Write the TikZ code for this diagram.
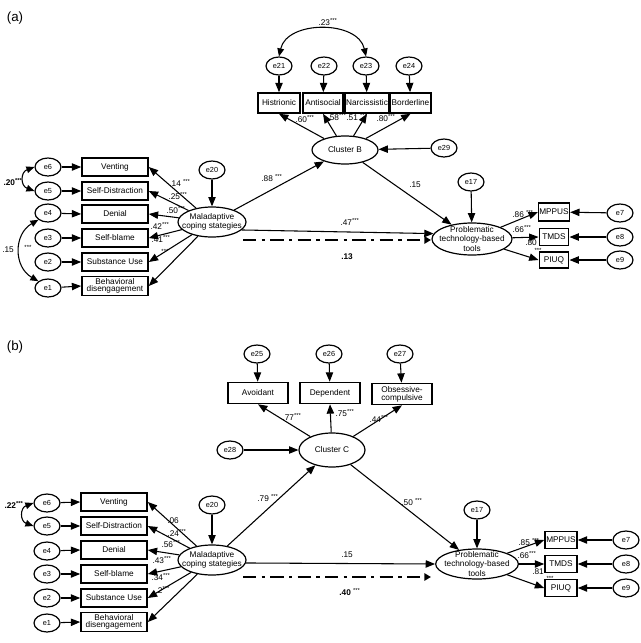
\documentclass[tikz,border=0pt]{standalone}
\usepackage{fontspec}
\setmainfont{Liberation Sans}
\usetikzlibrary{shapes.geometric,arrows.meta}
\newcommand\st{\textsuperscript{***}}
\newcommand\myfs{\fontsize{6.2}{6.8}\selectfont}
\newcommand\myfe{\fontsize{5.5}{6}\selectfont}
\begin{document}
\begin{tikzpicture}[x=0.75pt,y=-0.75pt,
  box/.style={draw,line width=1.2pt,inner sep=0.5pt,font=\myfs,align=center,minimum height=13.5pt},
  lbox/.style={box,minimum width=49.5pt},
  err/.style={ellipse,draw,line width=0.9pt,inner sep=0pt,minimum width=19.5pt,minimum height=13.5pt,font=\myfe},
  lat/.style={ellipse,draw,line width=0.9pt,inner sep=0pt},
  txt/.style={font=\myfs,align=center,inner sep=0pt},
  arr/.style={line width=0.8pt,-{Triangle[length=7pt,width=5.5pt]}},
  darr/.style={line width=0.8pt,{Triangle[length=6pt,width=5pt]}-{Triangle[length=6pt,width=5pt]}},
  dd/.style={line width=2.2pt,dash pattern=on 10pt off 4pt on 2.5pt off 4pt,-{Triangle[length=5pt,width=5.5pt]}},
  lab/.style={font=\myfs,inner sep=0pt},
  slab/.style={font=\fontsize{4.5}{5}\selectfont,inner sep=0pt},
  panel/.style={font=\fontsize{10}{12}\selectfont,inner sep=0pt}]
\useasboundingbox (0,0) rectangle (641,643);

% ================= Panel (a) =================
\node[panel] (pa) at (15,18) {(a)};

\node[lbox] (av) at (115,167) {Venting};
\node[lbox] (asd) at (115,191) {Self-Distraction};
\node[lbox] (ad) at (115,214) {Denial};
\node[lbox] (asb) at (115,238) {Self-blame};
\node[lbox] (asu) at (115,262) {Substance Use};
\node[lbox,minimum height=14.5pt,inner sep=0.3pt] (abd) at (115,286) {Behavioral\\[-1.4pt]disengagement};

\node[err] (ae6) at (48,167) {e6};
\node[err] (ae5) at (48,191) {e5};
\node[err] (ae4) at (48,213) {e4};
\node[err] (ae3) at (48,238) {e3};
\node[err] (ae2) at (48,262) {e2};
\node[err] (ae1) at (48,288) {e1};

\foreach \e/\b in {ae6/av,ae5/asd,ae4/ad,ae3/asb,ae2/asu,ae1/abd}
  \draw[arr] (\e) -- (\b.west);

\draw[darr] (ae6.west) to[out=200,in=160,looseness=1.6] (ae5.west);
\draw[darr] (ae4.south west) to[out=210,in=150,looseness=1.2] (ae1.north west);
\node[lab] (l20) at (13,182) {\bfseries .20\st};
\node[lab] (l15) at (8,250) {.15};
\node[slab] (l15s) at (28,247) {***};

\node[lat,minimum width=51pt,minimum height=22.5pt] (amal) at (212,222) {};
\node[txt] (amalt) at (amal) {Maladaptive\\coping stategies};
\node[err] (ae20) at (212,170) {e20};
\draw[arr] (ae20) -- (amal);
\foreach \b in {av,asd,ad,asb,asu,abd}
  \draw[arr] (amal) -- (\b.east);
\node[lab] (a14) at (180,183) {.14 \st};
\node[lab] (a25) at (178,196) {.25\st};
\node[lab] (a50) at (176,210) {.50\st};
\node[lab] (a42) at (160,226) {.42\st};
\node[lab] (a41) at (161,239) {.41\st};
\node[slab] (a4x) at (165,251) {***};

% Cluster B
\node[lat,minimum width=49.5pt,minimum height=21pt] (acb) at (345,150) {};
\node[txt] (acbt) at (acb) {Cluster B};
\node[err] (ae29) at (444,148) {e29};
\draw[arr] (ae29) -- (acb);

\node[box,minimum width=31.5pt,minimum height=15pt] (ahi) at (279,103) {Histrionic};
\node[box,minimum width=30pt,minimum height=15pt] (aan) at (323,103) {Antisocial};
\node[box,minimum width=33pt,minimum height=15pt] (ana) at (367,103) {Narcissistic};
\node[box,minimum width=30.75pt,minimum height=15pt] (abo) at (410.5,103) {Borderline};
\node[err] (ae21) at (279,66) {e21};
\node[err] (ae22) at (324,66) {e22};
\node[err] (ae23) at (366,66) {e23};
\node[err] (ae24) at (409,66) {e24};
\draw[arr] (ae21) -- (ahi);
\draw[arr] (ae22) -- (aan);
\draw[arr] (ae23) -- (ana);
\draw[arr] (ae24) -- (abo);
\draw[darr] (ae21.north) .. controls (287,20) and (358,20) .. (ae23.north);
\node[lab] (a23) at (328,22) {.23\st};

\draw[arr] (acb) -- (ahi.south);
\draw[arr] (acb) -- (aan.south);
\draw[arr] (acb) -- (ana.south);
\draw[arr] (acb) -- (abo.south);
\node[lab] (a60) at (305,119) {.60\st};
\node[lab] (a58) at (337,117) {.58\st};
\node[lab] (a51) at (357,117) {.51 \st};
\node[lab] (a80) at (386,118) {.80\st};

% Problematic
\node[lat,minimum width=60pt,minimum height=24pt] (apt) at (472,239) {};
\node[txt] (aptt) at (apt) {Problematic\\technology-based\\tools};
\node[err] (ae17) at (471,182) {e17};
\draw[arr] (ae17) -- (apt);

\draw[arr] (amal) -- (acb);
\node[lab] (a88) at (272,178) {.88 \st};
\draw[arr] (acb) -- (apt);
\node[lab] (a15b) at (415,185) {.15};
\draw[arr] (amal.-15) -- (apt.172);
\node[lab] (a47) at (350,222) {.47\st};
\coordinate (ads) at (243,240);
\coordinate (ade) at (431,240);
\draw[dd] (ads) -- (ade);
\node[lab] (a13) at (347,257) {\bfseries .13};

\node[box,minimum width=22pt,minimum height=13.5pt] (amp) at (554,212) {MPPUS};
\node[box,minimum width=22pt,minimum height=12.75pt] (atm) at (554,237) {TMDS};
\node[box,minimum width=22pt,minimum height=12pt] (api) at (554,260) {PIUQ};
\node[err] (ae7) at (620,213) {e7};
\node[err] (ae8) at (620,237) {e8};
\node[err] (ae9) at (620,260) {e9};
\draw[arr] (ae7) -- (amp);
\draw[arr] (ae8) -- (atm);
\draw[arr] (ae9) -- (api);
\draw[arr] (apt) -- (amp.west);
\draw[arr] (apt) -- (atm.west);
\draw[arr] (apt) -- (api.west);
\node[lab] (a86) at (523,214) {.86 \st};
\node[lab] (a66) at (522,229) {.66\st};
\node[lab] (a80r) at (531,243) {.80};
\node[slab] (a80s) at (538,250) {***};

% ================= Panel (b) =================
\node[panel] (pb) at (15,347) {(b)};

\node[lbox] (bv) at (114,502) {Venting};
\node[lbox] (bsd) at (114,526) {Self-Distraction};
\node[lbox] (bd) at (114,550) {Denial};
\node[lbox] (bsb) at (114,574) {Self-blame};
\node[lbox] (bsu) at (114,598) {Substance Use};
\node[lbox,minimum height=14.5pt,inner sep=0.3pt] (bbd) at (114,622) {Behavioral\\[-1.4pt]disengagement};

\node[err] (be6) at (47,503) {e6};
\node[err] (be5) at (47,526) {e5};
\node[err] (be4) at (47,551) {e4};
\node[err] (be3) at (47,574) {e3};
\node[err] (be2) at (47,598) {e2};
\node[err] (be1) at (47,623) {e1};
\foreach \e/\b in {be6/bv,be5/bsd,be4/bd,be3/bsb,be2/bsu,be1/bbd}
  \draw[arr] (\e) -- (\b.west);
\draw[darr] (be6.west) to[out=200,in=160,looseness=1.6] (be5.west);
\node[lab] (l22) at (14,505) {\bfseries .22\st};

\node[lat,minimum width=51pt,minimum height=22.5pt] (bmal) at (212,560) {};
\node[txt] (bmalt) at (bmal) {Maladaptive\\coping stategies};
\node[err] (be20) at (212,505) {e20};
\draw[arr] (be20) -- (bmal);
\foreach \b in {bv,bsd,bd,bsb,bsu,bbd}
  \draw[arr] (bmal) -- (\b.east);
\node[lab] (b06) at (173,521) {.06};
\node[lab] (b24) at (177,533) {.24\st};
\node[lab] (b56) at (171,544) {.56\st};
\node[lab] (b43) at (162,560) {.43\st};
\node[lab] (b34) at (161,577) {.34\st};
\node[lab] (b2x) at (164,590) {2\st};

% Cluster C
\node[lat,minimum width=49.5pt,minimum height=25.5pt] (bcc) at (332,450) {};
\node[txt] (bcct) at (bcc) {Cluster C};
\node[err] (be28) at (230,450) {e28};
\draw[arr] (be28) -- (bcc);
\node[box,minimum width=45pt,minimum height=15.75pt] (bav) at (258,393) {Avoidant};
\node[box,minimum width=45pt,minimum height=15.75pt] (bde) at (330,393) {Dependent};
\node[box,minimum width=45pt,minimum height=15.75pt,inner sep=0.3pt] (bob) at (402,394) {Obsessive-\\[-1pt]compulsive};
\node[err] (be25) at (257,354) {e25};
\node[err] (be26) at (329,354) {e26};
\node[err] (be27) at (400,354) {e27};
\draw[arr] (be25) -- (bav);
\draw[arr] (be26) -- (bde);
\draw[arr] (be27) -- (bob);
\draw[arr] (bcc) -- (bav.south);
\draw[arr] (bcc) -- (bde.south);
\draw[arr] (bcc) -- (bob.south);
\node[lab] (b77) at (292,417) {.77\st};
\node[lab] (b75) at (345,413) {.75\st};
\node[lab] (b44) at (379,419) {.44\st};

\node[lat,minimum width=62pt,minimum height=22.5pt] (bpt) at (477,564) {};
\node[txt] (bptt) at (bpt) {Problematic\\technology-based\\tools};
\node[err] (be17) at (477,510) {e17};
\draw[arr] (be17) -- (bpt);

\draw[arr] (bmal) -- (bcc);
\node[lab] (b79) at (268,498) {.79 \st};
\draw[arr] (bcc) -- (bpt);
\node[lab] (b50) at (412,502) {.50 \st};
\draw[arr] (bmal.-5) -- (bpt.west);
\node[lab] (b15) at (347,555) {.15};
\coordinate (bds) at (243,577);
\coordinate (bde2) at (431,577);
\draw[dd] (bds) -- (bde2);
\node[lab] (b40) at (350,592) {\bfseries .40 \mdseries\st};

\node[box,minimum width=24pt,minimum height=12.5pt] (bmp) at (561,540) {MPPUS};
\node[box,minimum width=24pt,minimum height=12.5pt] (btm) at (561,564) {TMDS};
\node[box,minimum width=24pt,minimum height=12.5pt] (bpi) at (561,588) {PIUQ};
\node[err] (be7) at (626,540) {e7};
\node[err] (be8) at (626,564) {e8};
\node[err] (be9) at (626,588) {e9};
\draw[arr] (be7) -- (bmp);
\draw[arr] (be8) -- (btm);
\draw[arr] (be9) -- (bpi);
\draw[arr] (bpt) -- (bmp.west);
\draw[arr] (bpt) -- (btm.west);
\draw[arr] (bpt) -- (bpi.west);
\node[lab] (b85) at (529,542) {.85 \st};
\node[lab] (b66) at (527,555) {.66\st};
\node[lab] (b81) at (538,572) {.81};
\node[slab] (b81s) at (550,578) {***};
\end{tikzpicture}
\end{document}
